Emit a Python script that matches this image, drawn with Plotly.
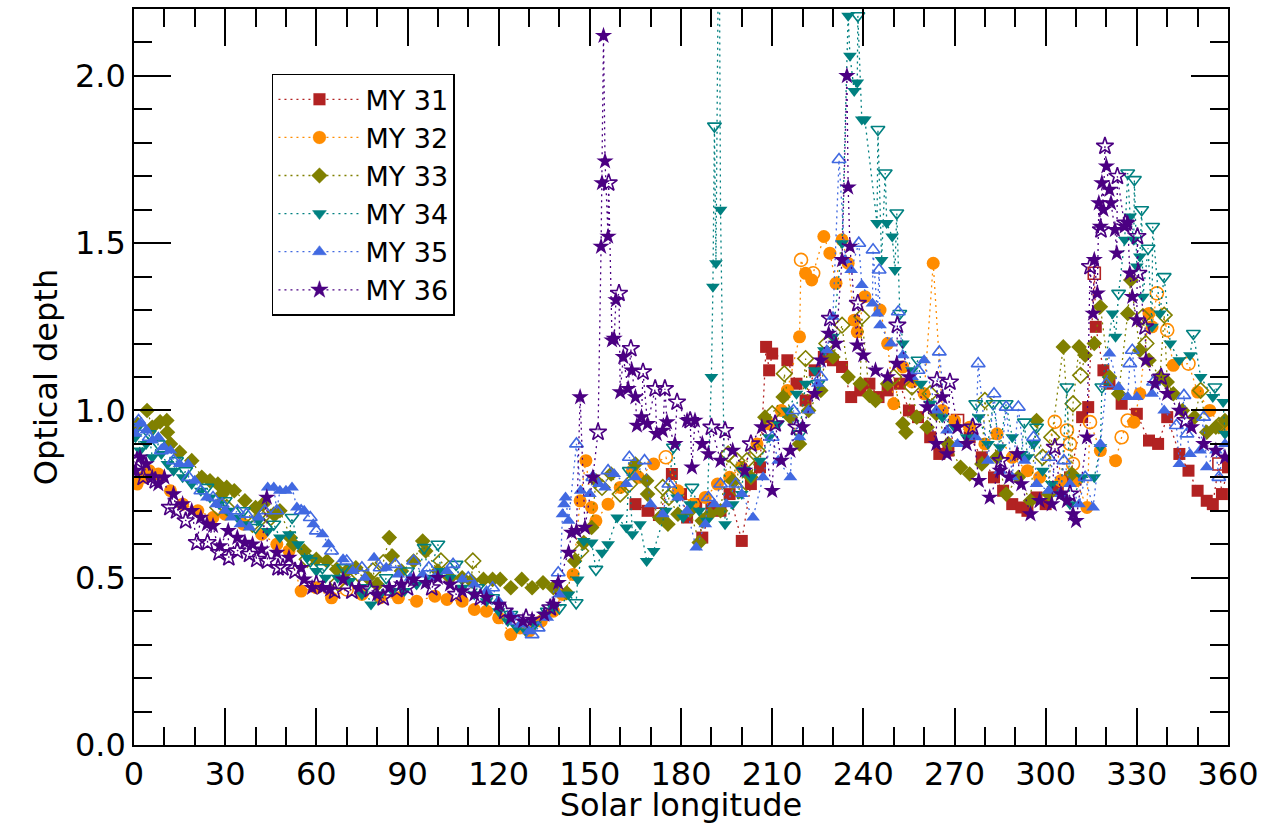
import plotly.graph_objects as go

# ---------------- data (Solar longitude, optical depth) ----------------
MY31_FILLED = [(165,0.72),(169,0.70),(177,0.81),(180,0.75),(182,0.68),(185,0.72),(187,0.62),(190,0.71),(193,0.70),(196,0.75),
    (200,0.61),(203,0.78),(206,0.83),(208,1.19),(209,1.12),(210,1.17),(215,1.15),(218,1.08),(221,1.03),(224,1.12),(227,1.16),
    (230,1.15),(233,1.13),(236,1.04),(239,1.06),(242,1.08),(245,1.04),(248,1.06),(252,1.08),(255,1.00),(258,0.98),(262,0.92),
    (265,0.87),(268,0.88),(275,0.92),(279,0.86),(283,0.80),(286,0.76),(289,0.72),(292,0.71),(294,0.70),(297,0.74),(300,0.72),
    (304,0.76),(308,0.80),(312,0.98),(314,1.01),(316.5,1.25),(319,1.12),(321,1.08),(325,1.02),(330,0.99),(334,0.91),(337,0.90),
    (340,0.98),(344,0.87),(347,0.82),(350,0.76),(353,0.73),(355,0.72),(358,0.75),(360,0.83)]
MY31_OPEN = [(173,0.69),(271,0.97),(316,1.41),(357,0.84)]

MY32_FILLED = [(1,0.78),(3,0.80),(5,0.82),(8,0.81),(12,0.76),(16,0.72),(21,0.70),(26,0.68),(30,0.69),(36,0.66),(42,0.63),
    (47,0.60),(51,0.58),(55,0.46),(60,0.47),(65,0.44),(75,0.45),(81,0.44),(87,0.44),(93,0.43),(99,0.445),(103,0.435),(108,0.43),
    (112,0.405),(116,0.40),(120,0.38),(124,0.33),(127,0.35),(130,0.34),(134,0.37),(138,0.40),(141,0.45),(144.5,0.51),(146.8,0.73),
    (148.7,0.85),(150.6,0.71),(152,0.67),(156,0.72),(160,0.77),(164,0.82),(166,0.80),(171,0.84),(179,0.76),(184,0.72),(188,0.74),
    (192,0.78),(196,0.80),(200,0.83),(205,0.90),(209,0.96),(213,1.00),(215,1.06),(219,1.22),(221,1.41),(223,1.39),(227,1.52),
    (229,1.47),(231,1.38),(233,1.51),(235,1.44),(237,1.27),(238,1.235),(240.5,1.34),(245.5,1.30),(248,1.20),(250,1.02),(253,1.13),
    (256,1.085),(260,1.05),(263,1.44),(266,1.00),(270,0.97),(275,0.95),(280,0.90),(284,0.93),(289,0.86),(294,0.82),(298,0.80),
    (305,0.79),(310,0.79),(313.6,0.71),(318,0.88),(323,0.85),(329,0.965),(331,1.05),(334,1.29),(335,1.25),(342,1.135),(350,1.055),
    (354,1.00),(358,0.95)]
MY32_OPEN = [(70,0.465),(175,0.86),(219.5,1.45),(223.5,1.41),(303,0.966),(307,0.94),(308,0.90),(309,0.84),(314.6,0.965),
    (325,0.92),(327,0.97),(336.6,1.35),(340,1.24),(347,1.14)]

MY33_FILLED = [(1,0.96),(4.3,1.0),(6,0.95),(8.6,0.966),(10.8,0.97),(11,0.935),(12,0.90),(15,0.875),(19,0.85),(22.3,0.80),
    (25,0.79),(27.6,0.78),(29,0.75),(30.5,0.77),(33,0.76),(36.5,0.73),(40,0.71),(42.5,0.72),(46,0.69),(48,0.70),(51.4,0.62),
    (52.5,0.60),(56,0.58),(60,0.555),(63.5,0.55),(66.7,0.525),(70,0.52),(73,0.53),(77,0.50),(80,0.48),(84,0.62),(85,0.565),
    (88,0.52),(92,0.55),(95,0.61),(96,0.58),(100,0.52),(104,0.50),(108,0.50),(111,0.49),(115,0.495),(118,0.495),(120.5,0.495),
    (124,0.47),(127.6,0.495),(131,0.47),(134.6,0.485),(138,0.47),(142.4,0.455),(145,0.55),(148,0.605),(150.6,0.65),(152,0.79),
    (157,0.81),(165,0.84),(168.7,0.79),(169,0.75),(173,0.68),(175.7,0.66),(179,0.69),(183,0.70),(186,0.605),(187,0.67),(189.5,0.69),
    (193,0.70),(197,0.79),(203,0.80),(207.6,0.98),(213.6,1.04),(216,0.98),(219,0.90),(222,1.00),(226,1.06),(230,1.16),(235,1.10),
    (239,1.08),(242,1.045),(244,1.03),(248,1.08),(253,0.96),(254,0.935),(257.6,0.98),(261,0.95),(264,0.99),(268,0.90),(272,0.83),
    (275,0.81),(279,0.84),(284,0.86),(287,0.75),(291,0.80),(295,0.73),(297,0.97),(301,0.75),(305.8,1.19),(308.6,0.81),(311,1.19),
    (313,1.165),(316,1.20),(318,1.31),(321,1.10),(324,1.05),(327,1.29),(328,1.39),(331,1.18),(334,1.15),(337.6,1.10),(340,1.085),
    (342,1.05),(345,1.00),(349,0.98),(353,0.935),(356,0.95),(359,0.97)]
MY33_OPEN = [(27.6,0.71),(30.5,0.71),(39,0.66),(42,0.68),(45,0.68),(57,0.555),(67,0.485),(74,0.51),(78.6,0.52),(82,0.545),
    (101,0.55),(111.5,0.55),(147,0.58),(154,0.77),(160,0.75),(163,0.78),(174,0.77),(176,0.74),(195.5,0.87),(198.4,0.85),(199,0.76),
    (201.7,0.85),(205,0.88),(210,0.99),(214,1.11),(221,1.155),(228,1.20),(233,1.255),(239.5,1.28),(250,1.10),(256,1.07),(262,1.05),
    (280,1.03),(299,0.86),(302,0.92),(309,1.02),(311.5,1.105),(332,1.28),(333,1.20),(339,1.285),(351,1.06),(357,0.955)]

MY34_FILLED = [(0.5,0.92),(2,0.88),(4,0.90),(6,0.86),(9,0.87),(11,0.84),(13,0.82),(16,0.80),(19,0.78),(22,0.76),(25,0.74),
    (28,0.72),(31,0.70),(34,0.68),(37,0.66),(41,0.67),(44,0.64),(48,0.62),(51,0.63),(54,0.60),(57,0.56),(60,0.52),(63,0.50),
    (67,0.50),(71,0.49),(75,0.45),(78,0.42),(81,0.45),(85,0.46),(89,0.46),(93,0.48),(97,0.50),(101,0.52),(104,0.50),(108,0.47),
    (112,0.45),(116,0.43),(120,0.40),(123,0.37),(126,0.35),(129,0.34),(132,0.36),(135,0.39),(138,0.41),(143,0.45),(146,0.495),
    (148,0.61),(150.6,0.605),(154,0.575),(156,0.60),(159,0.68),(162,0.65),(164,0.63),(166.5,0.66),(168.7,0.55),(171,0.58),(175,0.70),
    (178.7,0.74),(180.7,0.68),(183,0.72),(186,0.70),(188.5,0.67),(190,1.10),(190.5,1.37),(191.5,1.44),(192.5,2.60),(193,1.60),
    (194.5,0.66),(197,0.72),(200,0.75),(203,0.80),(206,0.85),(209,0.92),(212,0.96),(215,1.00),(218,1.05),(221,1.08),(224,1.12),
    (227,1.18),(230,1.22),(233,1.50),(235,2.18),(235.6,2.06),(237,1.955),(238,1.98),(239.5,1.87),(240.5,1.87),(244.5,1.56),
    (246,1.45),(247.7,1.56),(249.5,1.52),(250.4,1.42),(253,1.20),(256,1.12),(259,1.08),(262,1.02),(266,0.98),(270,0.95),(274,0.92),
    (278,0.98),(281,0.90),(285,0.89),(289,0.92),(292,0.87),(294,0.86),(296,0.90),(299,0.82),(302,0.78),(305,0.75),(308,0.72),
    (312,0.80),(316,0.80),(318,0.89),(322,1.29),(323,1.22),(326,1.51),(327.8,1.58),(329,1.51),(330,1.43),(331,1.46),(332,1.34),
    (335,1.25),(337.6,1.29),(341,1.20),(344,1.15),(347.5,1.165),(351,1.10),(355,1.04),(358.4,1.025),(359,0.93)]
MY34_OPEN = [(1,0.95),(5,0.93),(8,0.90),(14,0.85),(17,0.82),(24,0.77),(30,0.73),(36,0.70),(40,0.65),(46,0.66),(52,0.68),
    (58,0.55),(62,0.53),(69,0.53),(76,0.47),(83,0.50),(90,0.52),(95.5,0.59),(100,0.60),(106,0.54),(113,0.47),(118,0.44),(124,0.39),
    (130,0.36),(136,0.40),(140,0.41),(145.5,0.425),(152,0.525),(163,0.82),(177.5,0.89),(183.6,0.77),(191,1.85),(200.5,0.82),
    (219,0.93),(225,1.08),(238.2,2.18),(244.8,1.84),(247.2,1.71),(251,1.59),(252,1.29),(258,1.15),(277,1.02),(282.7,1.02),
    (287,1.02),(293,0.965),(297,0.95),(307,1.07),(318.5,1.07),(324,1.35),(327,1.71),(329.2,1.69),(331.6,1.60),(333.7,1.485),
    (335.2,1.55),(339,1.40),(348.6,1.23),(355.7,1.07)]

MY35_FILLED = [(0.5,0.93),(2,0.96),(4,0.94),(6,0.91),(8,0.92),(10,0.89),(12,0.88),(15,0.84),(17.8,0.84),(20,0.79),(24,0.74),
    (27,0.72),(30,0.70),(32,0.68),(35,0.66),(38,0.65),(41,0.68),(44,0.77),(46,0.77),(48,0.76),(50,0.76),(52,0.77),(53.6,0.71),
    (56,0.70),(59,0.66),(62,0.63),(64,0.60),(68.8,0.555),(72,0.52),(76,0.50),(79,0.56),(83,0.53),(87,0.51),(91,0.50),(95,0.51),
    (99,0.50),(103,0.52),(108,0.495),(112,0.48),(116,0.46),(120,0.43),(124,0.39),(127,0.36),(130,0.34),(136,0.38),(140,0.45),
    (141,0.69),(141.5,0.72),(142,0.74),(143,0.67),(147,0.76),(150,0.75),(153,0.78),(155,0.77),(158,0.81),(162,0.78),(165,0.80),
    (170,0.72),(174,0.69),(179,0.74),(182,0.70),(185,0.59),(188,0.66),(191,0.72),(195,0.72),(200,0.75),(203.7,0.68),(207,0.80),
    (212,0.85),(216,0.80),(219,0.92),(222,1.00),(225,1.08),(228,1.18),(230,1.28),(234,1.45),(236,1.42),(239.5,1.375),(243,1.32),
    (244.6,1.29),(245.5,1.255),(249,1.20),(253,1.165),(256,1.10),(260,1.15),(264,1.00),(267.5,0.94),(271,0.90),(277,0.92),(281,0.85),
    (285,0.82),(289,0.80),(293,0.85),(297,0.78),(301,0.76),(305,0.75),(308,0.78),(311,0.72),(315.6,0.71),(318,0.90),(321,1.17),
    (324,1.07),(327,1.04),(330,1.04),(335,1.05),(339,1.00),(344,0.84),(347.5,0.87),(350.8,0.88),(353,0.83),(356,0.88),(359,0.90)]
MY35_OPEN = [(1.5,0.97),(3,0.95),(5,0.92),(9,0.88),(13,0.85),(18,0.80),(22,0.76),(26,0.74),(29,0.72),(34,0.70),(37,0.69),
    (43,0.70),(47,0.70),(55,0.70),(58,0.68),(60,0.64),(65,0.58),(70,0.55),(75,0.53),(81,0.53),(86,0.54),(92,0.55),(97,0.53),
    (105,0.54),(110,0.50),(118,0.47),(126,0.37),(131,0.33),(133,0.35),(139.6,0.515),(145.6,0.90),(151,0.80),(156,0.82),(163,0.86),
    (168,0.85),(176,0.78),(189,0.74),(193,0.78),(198,0.78),(210,0.92),(217,1.00),(226,1.10),(232,1.75),(238.5,1.50),(243.2,1.48),
    (245.2,1.42),(251.5,1.295),(258,1.12),(265,1.175),(277.8,1.14),(283,1.05),(287,1.01),(291,1.01),(296,0.92),(301,0.86),(306,0.85),
    (313,0.80),(320,1.08),(327.7,1.14),(328.5,1.18),(335.5,1.085),(343,0.955),(345.5,1.045),(346.5,0.93),(352,0.98),(357,0.80)]

MY36_FILLED = [(0.5,0.82),(2,0.86),(4,0.84),(6,0.80),(8,0.78),(10,0.80),(13,0.75),(16,0.72),(19,0.70),(22,0.68),(24,0.66),
    (26,0.655),(28.3,0.595),(31,0.64),(34,0.62),(36.5,0.605),(39,0.60),(42,0.585),(43.7,0.74),(47,0.575),(51,0.56),(55,0.53),
    (56,0.495),(58.6,0.47),(62,0.47),(64.5,0.465),(68.8,0.495),(74,0.47),(80,0.45),(84,0.47),(88,0.48),(92,0.495),(96,0.485),
    (100,0.50),(104,0.48),(108,0.46),(112,0.45),(116,0.44),(120,0.42),(124,0.38),(128,0.37),(131,0.375),(135,0.39),(138,0.42),
    (139.6,0.485),(143,0.575),(144,0.635),(145.6,0.64),(146.8,1.04),(148.4,0.65),(151,0.80),(153.7,1.49),(154,1.68),(154.5,2.12),
    (155,1.745),(156,1.52),(157.3,1.21),(158,1.215),(158.6,1.33),(160,1.055),(161,1.16),(162.6,1.065),(163.8,1.12),(165,1.04),
    (165.5,0.955),(167,0.98),(169,0.96),(172,0.93),(174,0.94),(175.4,0.965),(178,0.90),(182,0.97),(183.6,0.83),(184.6,0.97),
    (187,0.90),(189,0.87),(193,0.85),(197,0.88),(201,0.82),(206.6,0.95),(210,0.76),(213,0.85),(216,0.88),(220,0.95),(224,1.05),
    (226,1.15),(228.6,1.23),(231,1.20),(233,1.45),(234.6,2.00),(235,1.667),(235.6,1.49),(238,1.195),(240,1.165),(244,1.12),
    (248,1.10),(251,1.14),(255,1.10),(261,1.01),(264,0.90),(266,1.04),(267.5,0.87),(271,0.95),(274,0.90),(278,0.79),(281.6,0.74),
    (285,0.82),(288,0.80),(290.6,0.87),(292,0.78),(295,0.69),(298,0.73),(302,0.72),(305,0.75),(307,0.73),(309,0.69),(310,0.67),
    (313.6,0.92),(315.6,1.29),(316,1.45),(317,1.35),(317.5,1.62),(318,1.55),(318.5,1.68),(319,1.60),(320,1.73),(321,1.66),
    (321.5,1.62),(322.8,1.54),(323.4,1.47),(326,1.55),(327,1.56),(327.7,1.41),(328.5,1.34),(330,1.27),(333,1.15),(336,1.08),
    (340,1.05),(344,1.00),(348,0.95),(352,0.90),(356,0.88),(359,0.86)]
MY36_OPEN = [(1,0.85),(3,0.80),(7,0.79),(11.8,0.71),(14,0.70),(17,0.67),(20.7,0.605),(24.2,0.605),(28,0.575),(31.2,0.56),
    (34,0.58),(38,0.57),(40.4,0.555),(43.9,0.55),(47.4,0.53),(49,0.53),(53,0.52),(60,0.48),(66,0.46),(71.7,0.46),(77.7,0.465),
    (82,0.44),(86.5,0.465),(90,0.47),(98,0.47),(106,0.45),(114,0.44),(122,0.40),(129,0.38),(137,0.41),(152.7,0.935),(156.2,1.68),
    (159.6,1.35),(163.5,1.185),(167.5,1.115),(171.5,1.065),(174.7,1.065),(178.7,1.025),(183,0.97),(190,0.95),(194.5,0.94),
    (203,0.90),(211,0.96),(218,0.95),(229,1.275),(238.2,1.32),(251.2,1.255),(264.2,1.09),(268.5,1.085),(276,0.95),(285.2,0.85),
    (303,0.89),(308,0.75),(314.6,1.43),(318.2,1.54),(319.5,1.79),(323.6,1.70),(326.2,1.56),(330.2,1.52),(330.5,1.41),(332.7,1.25),
    (338,1.10),(346,0.97)]

SERIES_NAMES = ["MY 31", "MY 32", "MY 33", "MY 34", "MY 35", "MY 36"]
X_TICKS = [0, 30, 60, 90, 120, 150, 180, 210, 240, 270, 300, 330, 360]
Y_TICKS = [0.0, 0.5, 1.0, 1.5, 2.0]

# ---------------- styles ----------------
COLORS = ["#B22222", "#FF8C00", "#808000", "#008080", "#4169E1", "#4B0082"]
SYMBOLS = ["square", "circle", "diamond", "triangle-down", "triangle-up", "star"]
SIZES = [12, 13, 12, 12, 12, 13]
DATA = [(MY31_FILLED, MY31_OPEN), (MY32_FILLED, MY32_OPEN), (MY33_FILLED, MY33_OPEN),
        (MY34_FILLED, MY34_OPEN), (MY35_FILLED, MY35_OPEN), (MY36_FILLED, MY36_OPEN)]

FONT = "DejaVu Sans"
fig = go.Figure()

for name, (filled, opened), col, sym, sz in zip(SERIES_NAMES, DATA, COLORS, SYMBOLS, SIZES):
    pts = [(ls, tau, False) for ls, tau in filled] + [(ls, tau, True) for ls, tau in opened]
    pts.sort(key=lambda p: p[0])
    xs = [p[0] for p in pts]
    ys = [p[1] for p in pts]
    syms = [sym + "-open" if p[2] else sym for p in pts]
    lws = [1.6 if p[2] else 0 for p in pts]
    fig.add_trace(go.Scatter(
        x=xs, y=ys, name=name, mode="lines+markers", legendgroup=name,
        line=dict(color=col, width=1.3, dash="2px,4px"),
        marker=dict(symbol=syms, size=sz, color=col, line=dict(color=col, width=lws)),
    ))

axis_common = dict(
    showgrid=False, zeroline=False, showline=True, linecolor="black", linewidth=1.5,
    mirror="allticks", ticks="inside", ticklen=37, tickwidth=1.5, tickcolor="black",
    tickfont=dict(family=FONT, size=32, color="black"),
    title_font=dict(family=FONT, size=32, color="black"),
)

fig.update_xaxes(
    range=[0, 360], tickmode="array", tickvals=X_TICKS, ticktext=[str(v) for v in X_TICKS],
    minor=dict(dtick=10, tick0=0, ticklen=18, tickwidth=1.5, tickcolor="black", ticks="inside"),
    title=dict(text="Solar longitude", standoff=1),
    **axis_common,
)
fig.update_yaxes(
    range=[0, 2.2], tickmode="array", tickvals=Y_TICKS, ticktext=[f"{v:.1f}" for v in Y_TICKS],
    minor=dict(dtick=0.1, tick0=0, ticklen=18, tickwidth=1.5, tickcolor="black", ticks="inside"),
    title=dict(text="Optical depth", standoff=8),
    **axis_common,
)

fig.update_layout(
    width=1270, height=824,
    margin=dict(l=134, r=42, t=7, b=78),
    plot_bgcolor="white", paper_bgcolor="white",
    font=dict(family=FONT, color="black"),
    legend=dict(
        x=0.1261, y=0.912, xanchor="left", yanchor="top",
        bgcolor="white", bordercolor="black", borderwidth=1.5,
        font=dict(family=FONT, size=27, color="black"),
        itemwidth=82, tracegroupgap=0,
    ),
    showlegend=True,
)

fig.write_html("out.html", config={"displayModeBar": False},
               post_script="document.body.style.margin='0';")
